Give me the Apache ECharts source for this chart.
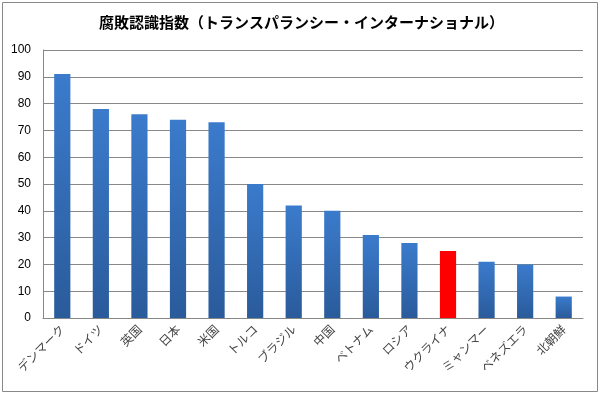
<!DOCTYPE html>
<html><head><meta charset="utf-8">
<script src="https://cdn.jsdelivr.net/npm/echarts@6/dist/echarts.min.js"></script>
<style>html,body{margin:0;padding:0;background:#fff}#c{width:603px;height:395px}</style>
</head><body><div id="c"></div>
<script>
const title = '腐敗認識指数（トランスパランシー・インターナショナル）';
const categories = ['デンマーク','ドイツ','英国','日本','米国','トルコ','ブラジル','中国','ベトナム','ロシア','ウクライナ','ミャンマー','ベネズエラ','北朝鮮'];
const values = [91, 78, 76, 74, 73, 50, 42, 40, 31, 28, 25, 21, 20, 8];
const highlight = 'ウクライナ';

const chart = echarts.init(document.getElementById('c'));
const blue = new echarts.graphic.LinearGradient(0,0,0,1,[{offset:0,color:'#3b7bcc'},{offset:1,color:'#2a5b9b'}]);
chart.setOption({
  animation:false,
  title:{text:title,left:'center',top:10,textStyle:{fontFamily:'Noto Sans CJK JP',fontSize:15,fontWeight:'bold',color:'#000'}},
  graphic:[{type:'rect',shape:{x:2.5,y:2.5,width:595,height:389},style:{fill:'none',stroke:'#888',lineWidth:1}}],
  grid:{left:43,right:20,top:50,bottom:77},
  xAxis:{type:'category',data:categories,
    axisLine:{lineStyle:{color:'#888'}},axisTick:{show:false},
    axisLabel:{rotate:45,interval:0,fontFamily:'Noto Sans CJK JP',fontSize:12,color:'#444',margin:9}},
  yAxis:{type:'value',min:0,max:100,interval:10,
    axisLine:{show:true,lineStyle:{color:'#888'}},
    splitLine:{lineStyle:{color:'#888'}},
    axisLabel:{fontFamily:'Liberation Sans',fontSize:12,color:'#000',margin:12}},
  series:[{type:'bar',barWidth:'42%',
    data:values.map((v,i)=>({value:v,itemStyle:{color:categories[i]===highlight?'#ff0000':blue}}))}]
});
</script></body></html>
